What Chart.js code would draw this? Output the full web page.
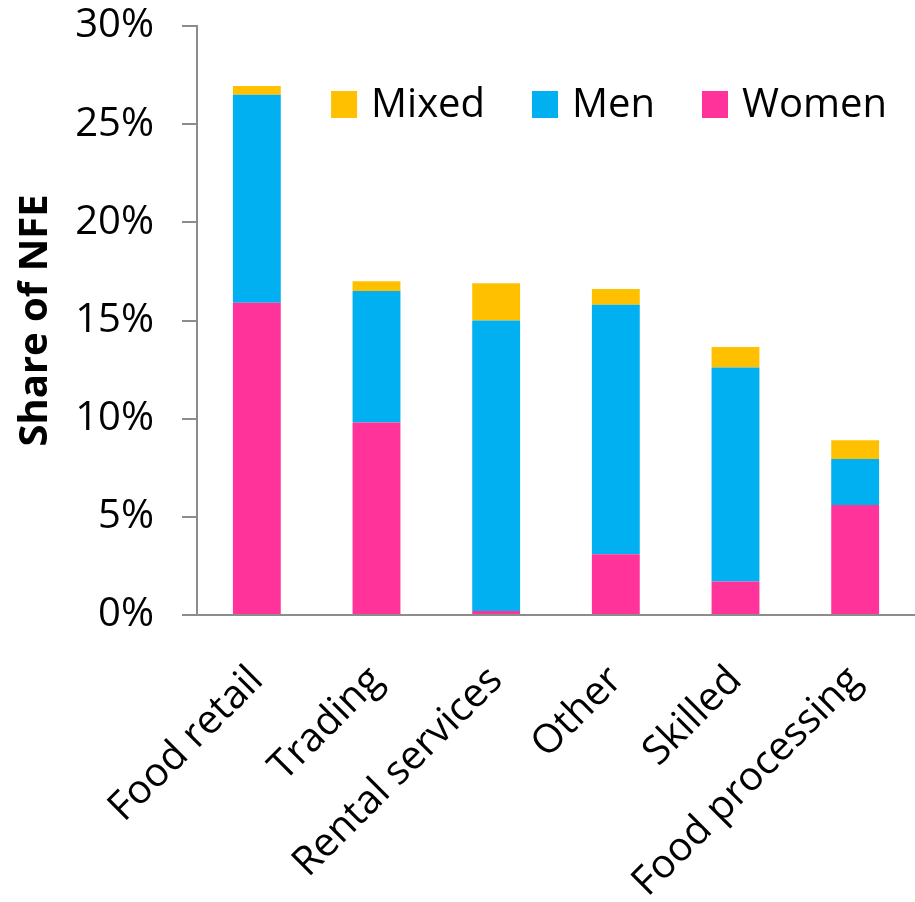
<!DOCTYPE html>
<html>
<head>
<meta charset="utf-8">
<script src="https://cdn.jsdelivr.net/npm/chart.js@4.4.1/dist/chart.umd.min.js"></script>
<style>
  html, body { margin: 0; padding: 0; background: #fff; }
  #wrap { position: relative; width: 915px; height: 902px; }
</style>
</head>
<body>
<div id="wrap"><canvas id="nfe-chart"></canvas></div>
<script>
const categories = ['Food retail', 'Trading', 'Rental services', 'Other', 'Skilled', 'Food processing'];
// share of NFE, in percent
const women = [15.9, 9.8, 0.2, 3.1, 1.7, 5.6];
const men = [10.6, 6.7, 14.8, 12.7, 10.9, 2.35];
const mixed = [0.45, 0.5, 1.9, 0.8, 1.05, 0.95];
const yTicks = [0, 5, 10, 15, 20, 25, 30];

const FONT = '"Open Sans", "DejaVu Sans", sans-serif';
const AXIS_GREY = '#8c8c8c';

// one-row legend inside the plot, top right, last series first
const insideLegend = {
  id: 'insideLegend',
  afterDraw(chart) {
    const { ctx, chartArea } = chart;
    const size = 40;
    const boxW = 26, boxH = 27, gap = 14, itemGap = 47;
    ctx.save();
    ctx.font = `${size}px ${FONT}`;
    ctx.textBaseline = 'alphabetic';
    const items = chart.data.datasets.slice().reverse();
    const widths = items.map((d) => boxW + gap + ctx.measureText(d.label).width);
    const total = widths.reduce((a, b) => a + b, 0) + itemGap * (items.length - 1);
    let x = chartArea.right - 28 - total;
    const top = chartArea.top + 65;
    items.forEach((d, i) => {
      ctx.fillStyle = d.backgroundColor;
      ctx.fillRect(x, top, boxW, boxH);
      ctx.fillStyle = '#000';
      ctx.fillText(d.label, x + boxW + gap, top + boxH - 1);
      x += widths[i] + itemGap;
    });
    ctx.restore();
  },
};

const ctx = document.getElementById('nfe-chart').getContext('2d');

new Chart(ctx, {
  type: 'bar',
  data: {
    labels: categories,
    datasets: [
      { label: 'Women', data: women, backgroundColor: '#ff3399' },
      { label: 'Men', data: men, backgroundColor: '#00b0f0' },
      { label: 'Mixed', data: mixed, backgroundColor: '#ffc000' },
    ],
  },
  options: {
    responsive: true,
    maintainAspectRatio: false,
    animation: false,
    layout: { padding: { top: 26, right: 0, left: 0, bottom: 0 } },
    datasets: { bar: { barPercentage: 0.4, categoryPercentage: 1 } },
    scales: {
      x: {
        stacked: true,
        grid: { display: false },
        border: { display: true, color: AXIS_GREY, width: 2 },
        ticks: {
          color: '#000',
          font: { family: FONT, size: 40 },
          minRotation: 45,
          maxRotation: 45,
          padding: 34,
        },
        afterFit: (scale) => {
          scale.height = 287;
          scale.paddingLeft = 0;
          scale.paddingRight = 0;
        },
      },
      y: {
        stacked: true,
        min: 0,
        max: 30,
        afterBuildTicks: (scale) => { scale.ticks = yTicks.map((v) => ({ value: v })); },
        grid: { drawOnChartArea: false, color: AXIS_GREY, tickLength: 15, lineWidth: 2 },
        border: { display: true, color: AXIS_GREY, width: 2 },
        ticks: {
          color: '#000',
          font: { family: FONT, size: 40 },
          padding: 28,
          callback: (v) => v + '%',
        },
        title: {
          display: true,
          text: 'Share of NFE',
          color: '#000',
          font: { family: FONT, size: 40, weight: 'bold' },
          padding: { top: 12, bottom: 0 },
        },
        afterFit: (scale) => {
          scale.width = 197;
          scale.paddingTop = 0;
          scale.paddingBottom = 0;
        },
      },
    },
    plugins: {
      legend: { display: false },
      tooltip: { enabled: false },
    },
  },
  plugins: [insideLegend],
});
</script>
</body>
</html>
